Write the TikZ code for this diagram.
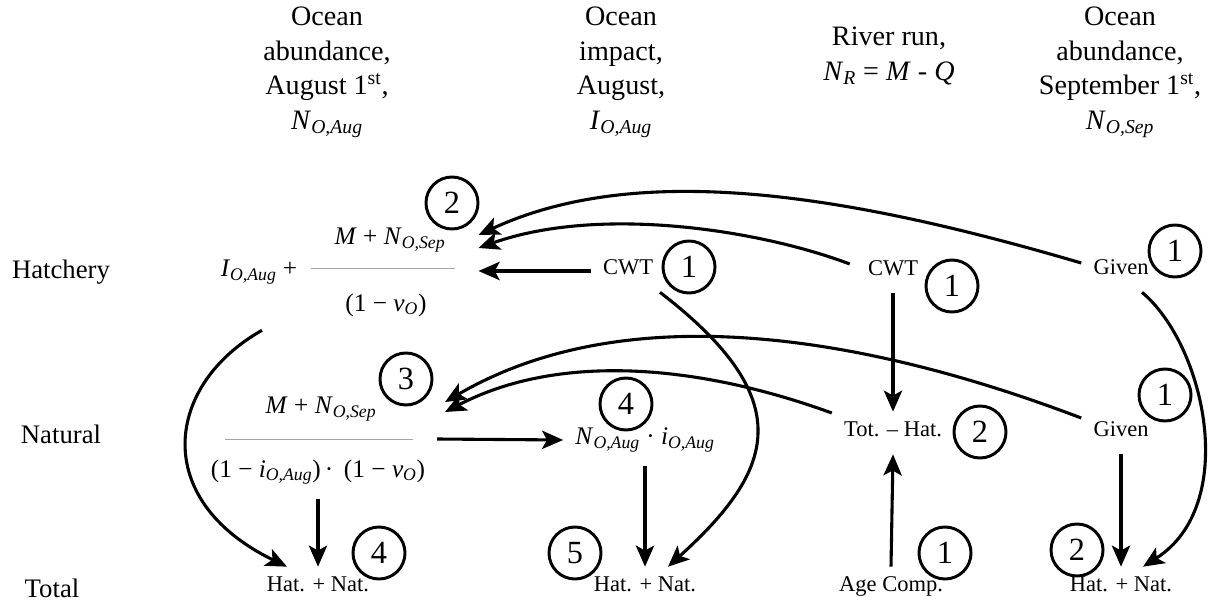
\documentclass[tikz,border=0pt]{standalone}
\usepackage{fontspec}
\setmainfont{Liberation Serif}
\usetikzlibrary{arrows.meta,calc}
\newcommand{\iv}[2]{\textit{#1}\textsubscript{\textit{#2}}}
\begin{document}
\begin{tikzpicture}[x=0.025cm,y=-0.025cm,
  head/.style={font=\fontsize{20}{24.5}\selectfont,align=center,anchor=north,inner sep=0pt},
  rowlab/.style={font=\fontsize{19}{24}\selectfont,inner sep=0pt},
  lab/.style={font=\fontsize{16}{19}\selectfont,inner xsep=0.3cm,inner ysep=0.35cm,text height=0.75em,text depth=0.25em},
  frm/.style={font=\fontsize{18}{21}\selectfont,inner xsep=0.3cm,inner ysep=0.35cm},
  bar/.style={fill=gray!70,inner sep=0pt,minimum height=0.6pt,outer xsep=0.6cm,outer ysep=0pt},
  num/.style={circle,draw,line width=2.1pt,minimum size=1.3cm,inner sep=0pt,font=\fontsize{23}{23}\selectfont},
  arr/.style={-{Stealth[length=15pt,width=13pt,inset=3.5pt]},line width=2.2pt}]
  \useasboundingbox (0,0) rectangle (1209,603);
  % column headers
  \node[head] (hdA) at (327,7) {Ocean\\abundance,\\August 1\textsuperscript{st},\\\iv{N}{O,Aug}};
  \node[head] (hdB) at (621,7) {Ocean\\impact,\\August,\\\iv{I}{O,Aug}};
  \node[head] (hdC) at (889,27) {River run,\\\iv{N}{R} = \textit{M} - \textit{Q}};
  \node[head] (hdD) at (1120,7) {Ocean\\abundance,\\September 1\textsuperscript{st},\\\iv{N}{O,Sep}};
  % row labels
  \node[rowlab] (rH) at (61,272) {Hatchery};
  \node[rowlab] (rN) at (61,434) {Natural};
  \node[rowlab] (rT) at (52,588) {Total};
  % hatchery row
  \node[frm] (hI) at (259,272) {\iv{I}{O,Aug} +};
  \node[bar,minimum width=3.575cm] (hbar) at (383,268) {};
  \node[frm] (hnum) at (390,240) {\textit{M} + \iv{N}{O,Sep}};
  \node[frm] (hden) at (386,305) {(1 − \iv{v}{O})};
  \node[lab] (cH2) at (628,271) {CWT};
  \node[lab] (cH3) at (893,272) {CWT};
  \node[lab] (gH) at (1121,271) {Given};
  % natural row
  \node[bar,minimum width=4.7cm] (nbar) at (319,439) {};
  \node[frm] (nnum) at (321,409) {\textit{M} + \iv{N}{O,Sep}};
  \node[frm] (nden) at (318,472) {(1 − \iv{i}{O,Aug})\,· \,(1 − \iv{v}{O})};
  \node[frm] (nNi) at (645,440) {\iv{N}{O,Aug} · \iv{i}{O,Aug}};
  \node[lab] (tnH) at (893,433) {Tot. – Hat.};
  \node[lab] (gN) at (1121,433) {Given};
  % total row
  \node[lab] (tH1) at (318,588) {Hat. + Nat.};
  \node[lab] (tH2) at (645,588) {Hat. + Nat.};
  \node[lab] (aC) at (891,588) {Age Comp.};
  \node[lab] (tH4) at (1121,588) {Hat. + Nat.};
  % step numbers
  \node[num] (s2h) at (452,203) {2};
  \node[num] (s1h2) at (689,267) {1};
  \node[num] (s1h3) at (952,286) {1};
  \node[num] (s1h4) at (1175,251) {1};
  \node[num] (s3n) at (406,379) {3};
  \node[num] (s4n) at (626,404) {4};
  \node[num] (s2n) at (980,432) {2};
  \node[num] (s1n) at (1165,395) {1};
  \node[num] (s4t) at (379,553) {4};
  \node[num] (s5t) at (575,553) {5};
  \node[num] (s1t) at (945,553) {1};
  \node[num] (s2t) at (1077,550) {2};
  % arrows into the hatchery formula
  \draw[arr] ($(gH.west)+(0,-8)$) .. controls (850,195) and (640,160) .. ($(hbar.east)+(0,-33)$);
  \draw[arr] ($(cH3.west)+(-6,-8)$) .. controls (760,230) and (600,205) .. ($(hbar.east)+(0,-20)$);
  \draw[arr] (cH2.west) -- (cH2.west -| hbar.east);
  % arrows into the natural formula
  \draw[arr] ($(gN.west)+(0,-15)$) .. controls (850,330) and (620,300) .. ($(nbar.east)+(8,-37)$);
  \draw[arr] ($(tnH.west)+(0,-20)$) .. controls (700,365) and (560,352) .. ($(nbar.east)+(8,-27)$);
  \draw[arr] (nbar.east) -- (nNi.west);
  % arrows down the columns
  \draw[arr] ($(hI.south)+(3,32)$) .. controls (165,385) and (150,500) .. ($(tH1.north)+(-31,0)$);
  \draw[arr] (nden.south) -- (nden.south |- tH1.north);
  \draw[arr] (nNi.south) -- (nNi.south |- tH2.north);
  \draw[arr] ($(cH2.south)+(32,0)$) .. controls (800,400) and (775,470) .. ($(tH2.north)+(23,0)$);
  \draw[arr] (cH3.south) -- (tnH.north);
  \draw[arr] (aC.north) -- (tnH.south);
  \draw[arr] (gN.south) -- (gN.south |- tH4.north);
  \draw[arr] ($(gH.south)+(21,0)$) .. controls (1205,345) and (1240,505) .. ($(tH4.north)+(22,0)$);
\end{tikzpicture}
\end{document}
